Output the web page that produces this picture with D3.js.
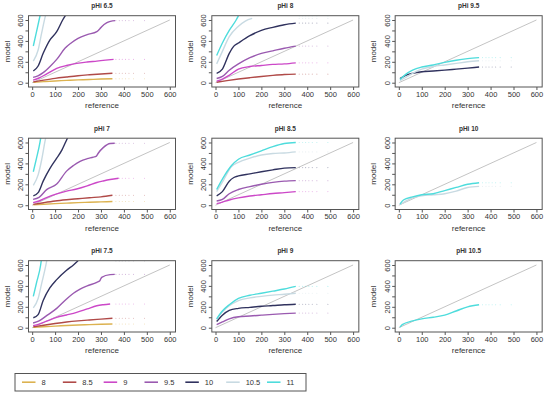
<!DOCTYPE html>
<html>
<head>
<meta charset="utf-8">
<script src="https://cdn.jsdelivr.net/npm/d3@7"></script>
<style>
  body { margin: 0; background: #fff; }
  svg text { font-family: "Liberation Sans", Arial, sans-serif; fill: #333; }
</style>
</head>
<body>
<svg id="chart" width="550" height="397"></svg>
<script>
// series names (pH levels) and their colours
const seriesNames = ["8", "8.5", "9", "9.5", "10", "10.5", "11"];
const seriesColors = ["#dcb250", "#b04a48", "#cc48c8", "#9a5ab0", "#30325e", "#c8dae2", "#4edcdc"];

const xTicks = [0, 100, 200, 300, 400, 500, 600];
const yTicks = [0, 100, 200, 300, 400, 500, 600];
const yLabels = [0, 200, 400, 600];
const tailX = [365, 380, 393, 407, 422, 442, 490];   // sparse points past the line ends

// curves per panel: [series, [[reference, model], ...]]
const curves65 = [
  ["8", [[5,3],[50,10],[100,17],[150,22],[200,27],[250,31],[300,35],[350,38]]],
  ["8.5", [[5,8],[50,25],[100,42],[150,55],[200,67],[250,76],[300,84],[350,90]]],
  ["9", [[4,25],[30,45],[60,80],[107,137],[150,165],[194,185],[240,198],[282,207],[320,216],[355,223]]],
  ["9.5", [[4,51],[25,65],[48,96],[80,160],[107,223],[143,329],[170,380],[200,424],[240,460],[282,488],[295,515],[303,536],[326,575],[350,592],[362,594]]],
  ["10", [[5,112],[26,160],[48,281],[77,408],[107,488],[133,600],[150,660]]],
  ["10.5", [[5,207],[26,313],[41,472],[58,641],[65,700]]],
  ["11", [[5,351],[19,488],[34,638],[40,700]]]
];
const curves70 = [
  ["8", [[5,3],[50,9],[100,15],[150,20],[200,25],[250,29],[300,32],[350,35]]],
  ["8.5", [[5,8],[50,24],[100,40],[150,52],[200,62],[250,72],[300,80],[350,95]]],
  ["9", [[4,25],[30,40],[60,70],[107,109],[150,135],[194,155],[240,185],[282,217],[310,232],[340,246],[377,258]]],
  ["9.5", [[4,56],[30,75],[63,149],[107,202],[150,326],[180,380],[209,420],[240,445],[267,460],[280,470],[288,497],[311,553],[340,590],[360,592]]],
  ["10", [[5,90],[26,120],[48,230],[77,350],[107,450],[130,530],[145,600],[160,670]]],
  ["10.5", [[5,190],[26,290],[41,430],[55,600],[62,680]]],
  ["11", [[5,320],[19,450],[34,600],[40,680]]]
];
const curves75 = [
  ["8", [[5,3],[50,9],[100,15],[150,21],[200,26],[250,30],[300,33],[350,35]]],
  ["8.5", [[5,8],[50,24],[100,40],[150,54],[200,65],[250,74],[300,82],[350,90]]],
  ["9", [[4,20],[30,35],[60,60],[107,99],[150,122],[194,147],[240,180],[282,210],[310,220],[340,227]]],
  ["9.5", [[4,45],[30,65],[63,115],[107,185],[150,275],[180,330],[209,370],[240,400],[282,434],[295,450],[303,482],[340,508],[360,510]]],
  ["10", [[5,95],[26,125],[48,260],[77,380],[107,460],[150,550],[180,600],[200,640]]],
  ["10.5", [[5,190],[26,280],[41,420],[60,600],[66,670]]],
  ["11", [[5,300],[19,430],[37,600],[42,680]]]
];
const curves80 = [
  ["8.5", [[5,5],[50,20],[100,35],[150,48],[200,60],[250,70],[300,78],[350,82]]],
  ["9", [[5,15],[30,35],[61,73],[100,130],[150,155],[200,165],[250,175],[300,180],[350,190]]],
  ["9.5", [[5,40],[30,60],[60,120],[100,180],[150,240],[200,280],[250,305],[300,330],[350,350]]],
  ["10", [[5,90],[30,130],[60,280],[80,350],[100,380],[150,450],[200,500],[250,530],[300,555],[350,570]]],
  ["10.5", [[5,180],[30,300],[60,440],[100,540],[130,590],[160,615]]],
  ["11", [[5,260],[30,380],[60,500],[90,600],[100,640]]]
];
const curves85 = [
  ["9", [[5,15],[30,30],[60,50],[100,70],[150,88],[200,100],[250,112],[300,120],[350,130]]],
  ["9.5", [[5,40],[30,55],[60,110],[100,150],[150,178],[200,200],[250,218],[300,230],[350,235]]],
  ["10", [[5,90],[30,130],[60,230],[80,265],[100,280],[150,300],[200,320],[250,338],[300,355],[350,360]]],
  ["10.5", [[5,130],[30,220],[70,370],[100,410],[150,450],[200,480],[250,495],[300,500],[350,510]]],
  ["11", [[5,150],[30,250],[70,380],[100,440],[150,480],[200,520],[250,560],[300,590],[350,600]]]
];
const curves90 = [
  ["9.5", [[5,30],[30,55],[60,85],[100,105],[150,112],[200,120],[250,128],[300,135],[350,140]]],
  ["10", [[5,60],[30,120],[60,165],[100,185],[150,195],[200,205],[250,212],[300,220],[350,225]]],
  ["10.5", [[5,80],[30,150],[60,210],[100,260],[150,285],[200,300],[250,312],[300,320],[350,330]]],
  ["11", [[5,85],[30,160],[60,220],[100,280],[150,310],[200,330],[250,350],[300,370],[350,395]]]
];
const curves95 = [
  ["10", [[5,40],[30,70],[60,90],[100,105],[150,112],[200,120],[250,130],[300,140],[350,150]]],
  ["10.5", [[5,20],[30,50],[60,90],[100,130],[150,155],[200,170],[250,185],[300,200],[350,210]]],
  ["11", [[5,30],[30,80],[60,120],[100,150],[150,170],[200,195],[250,215],[300,230],[350,240]]]
];
const curves100 = [
  ["10.5", [[5,5],[30,40],[60,70],[100,90],[150,100],[200,110],[250,135],[300,170],[350,180]]],
  ["11", [[5,10],[20,50],[60,80],[100,100],[150,110],[200,140],[250,170],[300,200],[350,215]]]
];
const curves105 = [
  ["11", [[5,5],[15,30],[60,65],[100,85],[150,100],[200,120],[250,160],[300,200],[350,220]]]
];

// grid order, row by row
const panels = [
  ["pHi 6.5", curves65], ["pHi 8", curves80], ["pHi 9.5", curves95],
  ["pHi 7", curves70], ["pHi 8.5", curves85], ["pHi 10", curves100],
  ["pHi 7.5", curves75], ["pHi 9", curves90], ["pHi 10.5", curves105]
];

const svg = d3.select("#chart");
const color = d3.scaleOrdinal().domain(seriesNames).range(seriesColors);

const colW = 550 / 3, rowH = 122.5;
const fw = 147, fh = 71.3;

panels.forEach(([title, curves], i) => {
  const col = i % 3, row = Math.floor(i / 3);
  const fx = col * colW + 28.5, fy = row * rowH + 15.7;

  const x = d3.scaleLinear().domain([-16, 625]).range([fx, fx + fw]);
  const y = d3.scaleLinear().domain([-41, 641]).range([fy + fh, fy]);

  const g = svg.append("g");
  const clipId = "clip" + i;
  g.append("clipPath").attr("id", clipId)
    .append("rect").attr("x", fx).attr("y", fy).attr("width", fw).attr("height", fh);

  const plot = g.append("g").attr("clip-path", `url(#${clipId})`);

  // 1:1 line
  plot.append("line")
    .attr("x1", x(0)).attr("y1", y(0)).attr("x2", x(600)).attr("y2", y(600))
    .attr("stroke", "#c4c4c4").attr("stroke-width", 1);

  const line = d3.line().x(d => x(d[0])).y(d => y(d[1])).curve(d3.curveMonotoneX);

  curves.forEach(([name, pts]) => {
    const last = pts[pts.length - 1];
    plot.selectAll(null)
      .data(tailX)
      .enter().append("circle")
      .attr("cx", d => x(d)).attr("cy", y(last[1]))
      .attr("r", 0.55)
      .attr("fill", color(name)).attr("opacity", 0.4);

    plot.append("path")
      .datum(pts)
      .attr("d", line)
      .attr("fill", "none")
      .attr("stroke", color(name))
      .attr("stroke-width", 1.4);
  });

  // frame
  g.append("rect")
    .attr("x", fx).attr("y", fy).attr("width", fw).attr("height", fh)
    .attr("fill", "none").attr("stroke", "#555").attr("stroke-width", 1);

  const xAxis = g.append("g")
    .attr("transform", `translate(0,${fy + fh})`)
    .call(d3.axisBottom(x).tickValues(xTicks).tickSize(3).tickPadding(1.5));
  xAxis.select(".domain").remove();
  xAxis.selectAll("line").attr("stroke", "#555");
  xAxis.selectAll("text").style("font-size", "7.5px").attr("fill", "#333");

  const yAxis = g.append("g")
    .attr("transform", `translate(${fx},0)`)
    .call(d3.axisLeft(y).tickValues(yTicks).tickSize(3)
      .tickFormat(d => yLabels.includes(d) ? d : ""));
  yAxis.select(".domain").remove();
  yAxis.selectAll("line").attr("stroke", "#555");
  yAxis.selectAll("text")
    .attr("x", 0).attr("dy", 0)
    .attr("text-anchor", "middle")
    .attr("transform", "translate(-5.5,0) rotate(-90)")
    .style("font-size", "7.5px").attr("fill", "#333");

  g.append("text")
    .attr("x", fx + fw / 2).attr("y", fy - 7.5)
    .attr("text-anchor", "middle")
    .style("font-size", "6.5px").style("font-weight", "bold")
    .text(title);

  g.append("text")
    .attr("x", fx + fw / 2).attr("y", fy + fh + 21)
    .attr("text-anchor", "middle")
    .style("font-size", "8px")
    .text("reference");

  g.append("text")
    .attr("transform", `translate(${fx - 19},${fy + fh / 2}) rotate(-90)`)
    .attr("text-anchor", "middle")
    .style("font-size", "8px")
    .text("model");
});

// legend
const legend = svg.append("g");
legend.append("rect")
  .attr("x", 15).attr("y", 373.5).attr("width", 291).attr("height", 17.5)
  .attr("fill", "none").attr("stroke", "#555").attr("stroke-width", 1);

const lx = d3.scalePoint().domain(seriesNames).range([22, 267]);
const items = legend.selectAll(".item").data(seriesNames).enter().append("g");
items.append("line")
  .attr("x1", d => lx(d)).attr("x2", d => lx(d) + 13.5)
  .attr("y1", 382.2).attr("y2", 382.2)
  .attr("stroke", d => color(d)).attr("stroke-width", 1.6);
items.append("text")
  .attr("x", d => lx(d) + 19.5).attr("y", 385)
  .style("font-size", "7.5px")
  .text(d => d);
</script>
</body>
</html>
